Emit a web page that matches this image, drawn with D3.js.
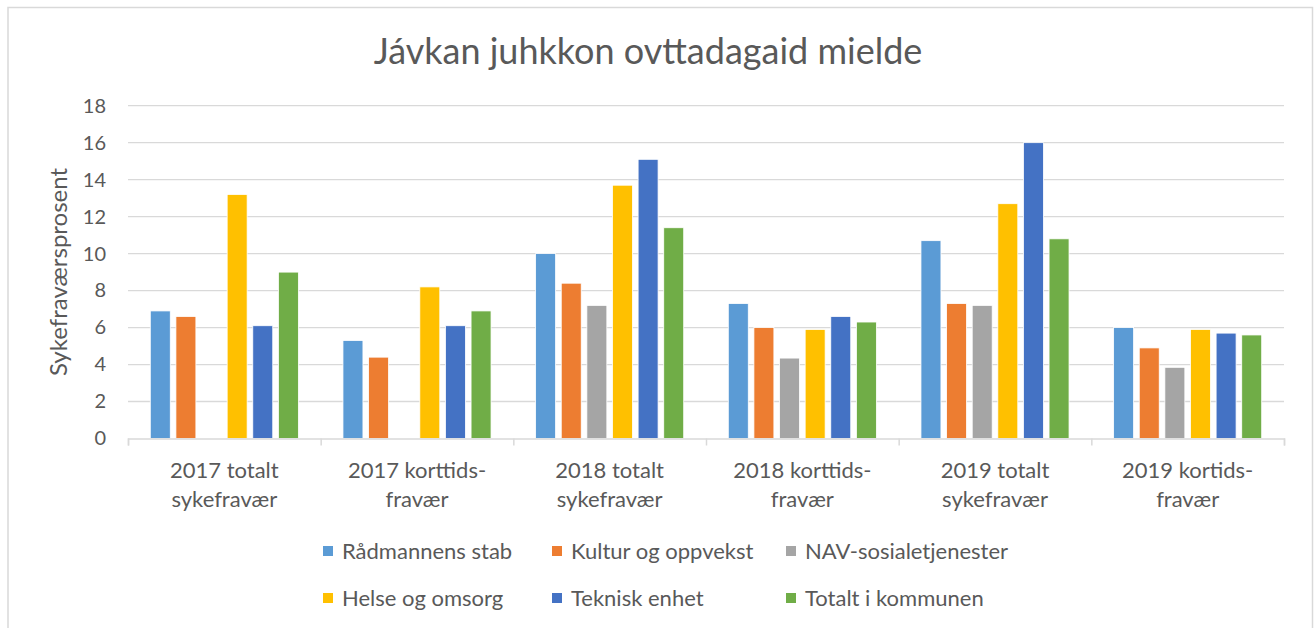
<!DOCTYPE html>
<html>
<head>
<meta charset="utf-8">
<script src="https://cdn.jsdelivr.net/npm/d3@7"></script>
<style>
  html, body { margin: 0; padding: 0; background: #fff; }
  svg { display: block; }
  text { font-family: Lato, "Open Sans", sans-serif; fill: #595959; }
</style>
</head>
<body>
<svg id="chart" width="1314" height="628"></svg>
<script>
const title = "Jávkan juhkkon ovttadagaid mielde";
const yTitle = "Sykefraværsprosent";
const categories = [
  ["2017 totalt", "sykefravær"],
  ["2017 korttids-", "fravær"],
  ["2018 totalt", "sykefravær"],
  ["2018 korttids-", "fravær"],
  ["2019 totalt", "sykefravær"],
  ["2019 kortids-", "fravær"]
];
const seriesNames = ["Rådmannens stab", "Kultur og oppvekst", "NAV-sosialetjenester", "Helse og omsorg", "Teknisk enhet", "Totalt i kommunen"];
const seriesColors = ["#5b9bd5", "#ed7d31", "#a5a5a5", "#ffc000", "#4472c4", "#70ad47"];
const radmannensStab   = [6.9, 5.3, 10.0, 7.3, 10.7, 6.0];
const kulturOgOppvekst = [6.6, 4.4, 8.4, 6.0, 7.3, 4.9];
const navSosial        = [null, null, 7.2, 4.35, 7.2, 3.85];
const helseOgOmsorg    = [13.2, 8.2, 13.7, 5.9, 12.7, 5.9];
const tekniskEnhet     = [6.1, 6.1, 15.1, 6.6, 16.0, 5.7];
const totaltKommunen   = [9.0, 6.9, 11.4, 6.3, 10.8, 5.6];
const seriesValues = [radmannensStab, kulturOgOppvekst, navSosial, helseOgOmsorg, tekniskEnhet, totaltKommunen];
const yTicks = [0, 2, 4, 6, 8, 10, 12, 14, 16, 18];

(function () {
const svg = d3.select("#chart");

// chart border
svg.append("rect").attr("x", 8).attr("y", 7.5).attr("width", 1304.5).attr("height", 640)
  .attr("fill", "none").attr("stroke", "#d9d9d9").attr("stroke-width", 1.5);

const pLeft = 128, pRight = 1284, pTop = 105.7, pBottom = 438.5;
const y = d3.scaleLinear().domain([0, 18]).range([pBottom, pTop]);
const x0 = d3.scaleBand().domain(d3.range(categories.length)).range([pLeft, pRight]).padding(0);
const x1 = d3.scaleBand().domain(d3.range(seriesNames.length)).range([0, x0.bandwidth()])
  .paddingInner(0.22).paddingOuter(0.87);

// gridlines
svg.append("g").selectAll("line").data(yTicks.filter(d => d > 0)).join("line")
  .attr("x1", pLeft).attr("x2", pRight)
  .attr("y1", d => y(d)).attr("y2", d => y(d))
  .attr("stroke", "#d9d9d9").attr("stroke-width", 1.3);

// y axis labels
const yAxis = d3.axisLeft(y).tickValues(yTicks).tickSize(0).tickPadding(0);
const yg = svg.append("g").attr("transform", `translate(${106},0)`).call(yAxis);
yg.select(".domain").remove();
yg.selectAll("text").style("font-size", "20px").attr("fill", "#595959")
  .style("font-family", "Lato, 'Open Sans', sans-serif");

// bars
const groups = svg.append("g").selectAll("g").data(categories.map((c, i) => i)).join("g")
  .attr("transform", i => `translate(${x0(i)},0)`);
groups.selectAll("rect")
  .data(ci => seriesValues.map((vals, si) => ({ si, v: vals[ci] })).filter(d => d.v != null))
  .join("rect")
  .attr("x", d => x1(d.si))
  .attr("width", x1.bandwidth())
  .attr("y", d => y(d.v))
  .attr("height", d => y(0) - y(d.v))
  .attr("fill", d => seriesColors[d.si])
  .attr("stroke", "#fff").attr("stroke-width", 0.8);

// x axis
const xAxis = d3.axisBottom(d3.scaleLinear().domain([0, categories.length]).range([pLeft, pRight]))
  .tickValues(d3.range(categories.length + 1)).tickSize(7).tickFormat("");
const xg = svg.append("g").attr("transform", `translate(0,${pBottom})`).call(xAxis);
xg.select(".domain").attr("stroke", "#d9d9d9").attr("stroke-width", 1.5);
xg.selectAll(".tick line").attr("stroke", "#d9d9d9").attr("stroke-width", 1.5);

// category labels
const catG = svg.append("g");
categories.forEach((lines, i) => {
  const t = catG.append("text").attr("x", x0(i) + x0.bandwidth() / 2).attr("y", 478)
    .attr("text-anchor", "middle").style("font-size", "22px");
  lines.forEach((l, k) => t.append("tspan").attr("x", x0(i) + x0.bandwidth() / 2)
    .attr("dy", k === 0 ? 0 : 29).text(l));
});

// title
svg.append("text").attr("x", 648).attr("y", 64).attr("text-anchor", "middle")
  .style("font-size", "36px").text(title);

// y title
svg.append("text").attr("transform", "translate(67,272) rotate(-90)")
  .attr("text-anchor", "middle").style("font-size", "24px").text(yTitle);

// legend
const legendCols = [323, 552, 786];
const legendRows = [551, 598];
const lg = svg.append("g");
seriesNames.forEach((name, i) => {
  const cx = legendCols[i % 3], cy = legendRows[Math.floor(i / 3)];
  lg.append("rect").attr("x", cx).attr("y", cy - 5).attr("width", 10).attr("height", 10)
    .attr("fill", seriesColors[i]);
  lg.append("text").attr("x", cx + 19).attr("y", cy).attr("dy", "0.35em")
    .style("font-size", "22px").text(name);
});
})();
</script>
</body>
</html>
